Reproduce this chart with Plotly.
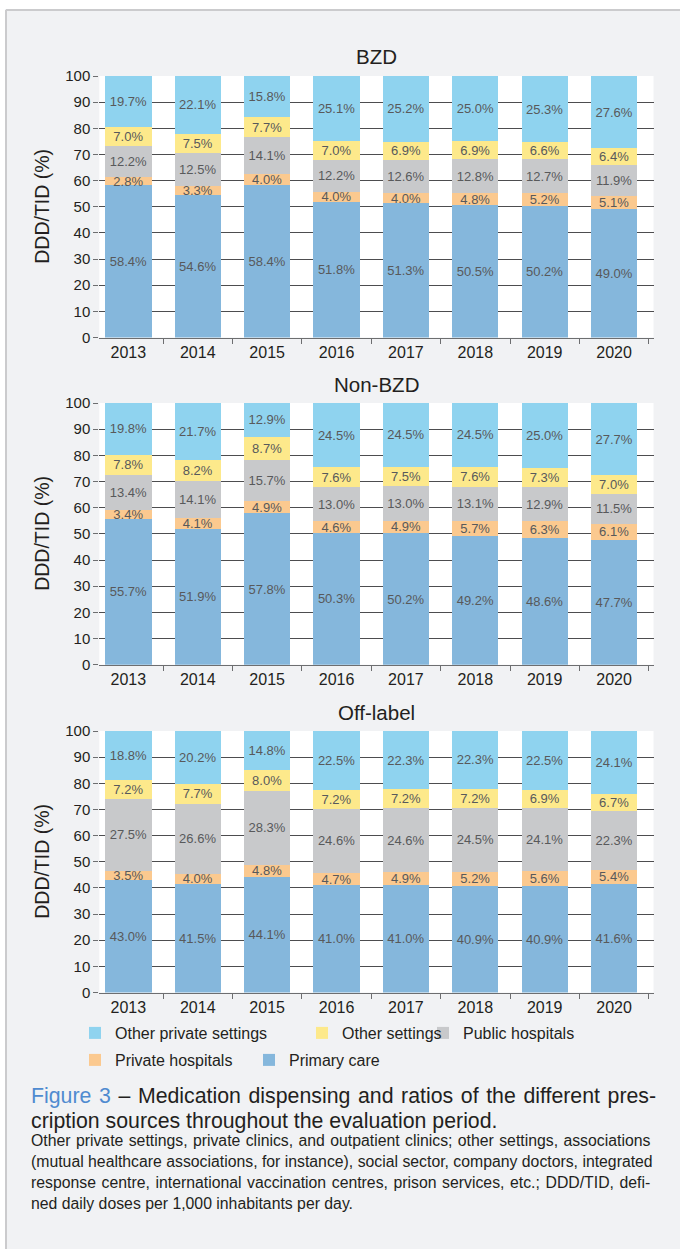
import plotly.graph_objects as go

# ---- data -------------------------------------------------------------
years = ["2013", "2014", "2015", "2016", "2017", "2018", "2019", "2020"]
panel_titles = ["BZD", "Non-BZD", "Off-label"]

series_names = ["Primary care", "Private hospitals", "Public hospitals",
                "Other settings", "Other private settings"]

bzd_primary_care = [58.4, 54.6, 58.4, 51.8, 51.3, 50.5, 50.2, 49.0]
bzd_private_hospitals = [2.8, 3.3, 4.0, 4.0, 4.0, 4.8, 5.2, 5.1]
bzd_public_hospitals = [12.2, 12.5, 14.1, 12.2, 12.6, 12.8, 12.7, 11.9]
bzd_other_settings = [7.0, 7.5, 7.7, 7.0, 6.9, 6.9, 6.6, 6.4]
bzd_other_private = [19.7, 22.1, 15.8, 25.1, 25.2, 25.0, 25.3, 27.6]

nonbzd_primary_care = [55.7, 51.9, 57.8, 50.3, 50.2, 49.2, 48.6, 47.7]
nonbzd_private_hospitals = [3.4, 4.1, 4.9, 4.6, 4.9, 5.7, 6.3, 6.1]
nonbzd_public_hospitals = [13.4, 14.1, 15.7, 13.0, 13.0, 13.1, 12.9, 11.5]
nonbzd_other_settings = [7.8, 8.2, 8.7, 7.6, 7.5, 7.6, 7.3, 7.0]
nonbzd_other_private = [19.8, 21.7, 12.9, 24.5, 24.5, 24.5, 25.0, 27.7]

offlabel_primary_care = [43.0, 41.5, 44.1, 41.0, 41.0, 40.9, 40.9, 41.6]
offlabel_private_hospitals = [3.5, 4.0, 4.8, 4.7, 4.9, 5.2, 5.6, 5.4]
offlabel_public_hospitals = [27.5, 26.6, 28.3, 24.6, 24.6, 24.5, 24.1, 22.3]
offlabel_other_settings = [7.2, 7.7, 8.0, 7.2, 7.2, 7.2, 6.9, 6.7]
offlabel_other_private = [18.8, 20.2, 14.8, 22.5, 22.3, 22.3, 22.5, 24.1]

panels = [
    [bzd_primary_care, bzd_private_hospitals, bzd_public_hospitals,
     bzd_other_settings, bzd_other_private],
    [nonbzd_primary_care, nonbzd_private_hospitals, nonbzd_public_hospitals,
     nonbzd_other_settings, nonbzd_other_private],
    [offlabel_primary_care, offlabel_private_hospitals, offlabel_public_hospitals,
     offlabel_other_settings, offlabel_other_private],
]

# ---- styling ----------------------------------------------------------
W, H = 680, 1249
FONT = "Liberation Sans, Arial, Helvetica, sans-serif"
TEXT = "#231f20"
LABEL = "#58595b"
series_colors = ["#85b7dc", "#fbc98f", "#c8c9cb", "#fde98b", "#8fd3ef"]
# each series gets its own legend box so the legend can be laid out in two rows
series_legends = ["legend5", "legend4", "legend3", "legend2", "legend"]


def fx(px):
    return px / W


def fy(py):
    return 1 - py / H


# plot-area pixel extents (top, bottom) of the three panels
panel_boxes = [(76, 337.5), (403, 664.7), (731, 992.5)]
x_left, x_right = 99.3, 653.5

fig = go.Figure()

for p, data in enumerate(panels):
    ax = "" if p == 0 else str(p + 1)
    for s, vals in enumerate(data):
        fig.add_trace(go.Bar(
            x=years, y=vals, name=series_names[s],
            marker=dict(color=series_colors[s], line=dict(width=0)),
            text=[f"{v:.1f}%" for v in vals],
            textposition="inside", insidetextanchor="middle", textangle=0,
            textfont=dict(size=13, color=LABEL, family=FONT),
            xaxis="x" + ax, yaxis="y" + ax,
            showlegend=(p == 0), legend=series_legends[s],
            hoverinfo="skip",
        ))

layout = dict(
    width=W, height=H,
    margin=dict(l=0, r=0, t=0, b=0, pad=0, autoexpand=False),
    paper_bgcolor="#f1f2f4", plot_bgcolor="#ffffff",
    barmode="stack", bargap=0.332,
    font=dict(family=FONT, color=TEXT, size=15),
    uniformtext=dict(minsize=13, mode="show"),
)

for p, (top, bottom) in enumerate(panel_boxes):
    ax = "" if p == 0 else str(p + 1)
    layout["xaxis" + ax] = dict(
        type="category", domain=[fx(x_left), fx(x_right)],
        range=[-0.419, 7.568], anchor="y" + ax, automargin=False,
        showline=True, linecolor="#6d6e70", linewidth=1,
        ticks="outside", tickson="boundaries", ticklen=5, tickcolor="#6d6e70",
        tickfont=dict(size=16, color=TEXT), showgrid=False, fixedrange=True,
    )
    layout["yaxis" + ax] = dict(
        domain=[fy(bottom), fy(top)], range=[0, 100], dtick=10,
        anchor="x" + ax, automargin=False, showline=False, zeroline=False,
        showgrid=True, gridcolor="#4d4d4f", gridwidth=1,
        ticks="outside", ticklen=5, tickcolor="#6d6e70",
        tickfont=dict(size=15, color=TEXT), fixedrange=True,
    )

# legend rows: (symbol left edge, row centre) in pixels
legend_pos = {
    "legend": (93, 1033),
    "legend2": (320, 1033),
    "legend3": (441, 1033),
    "legend4": (93, 1060),
    "legend5": (267, 1060),
}
for key, (lx, ly) in legend_pos.items():
    layout[key] = dict(
        x=fx(lx - 18), y=fy(ly), xanchor="left", yanchor="middle",
        orientation="h", bgcolor="rgba(0,0,0,0)", borderwidth=0,
        font=dict(size=16, color=TEXT, family=FONT),
    )

fig.update_layout(**layout)

annotations = []
for p, (top, bottom) in enumerate(panel_boxes):
    annotations.append(dict(
        text=panel_titles[p], x=fx((x_left + x_right) / 2), y=fy(top - 19),
        xref="paper", yref="paper", showarrow=False,
        xanchor="center", yanchor="middle",
        font=dict(size=20.5, color=TEXT, family=FONT),
    ))
    annotations.append(dict(
        text="DDD/TID (%)", x=fx(42), y=fy((top + bottom) / 2),
        xref="paper", yref="paper", showarrow=False, textangle=-90,
        xanchor="center", yanchor="middle",
        font=dict(size=19.5, color=TEXT, family=FONT),
    ))


def spaced(text, word_gap):
    # extra word spacing so the caption lines run to the right margin
    if word_gap <= 0:
        return text
    return f'<span style="word-spacing:{word_gap}px">{text}</span>'


caption_title = [
    ('<span style="color:#4f8bd0">Figure 3</span> – Medication dispensing and ratios of the different pres-', 1.7),
    ("cription sources throughout the evaluation period.", 0),
]
for i, (line, gap) in enumerate(caption_title):
    annotations.append(dict(
        text=spaced(line, gap), x=fx(29), y=fy(1096 + 25 * i),
        xref="paper", yref="paper",
        showarrow=False, xanchor="left", yanchor="middle",
        font=dict(size=21.3, color=TEXT, family=FONT),
    ))

caption_notes = [
    ("Other private settings, private clinics, and outpatient clinics; other settings, associations", 1.0),
    ("(mutual healthcare associations, for instance), social sector, company doctors, integrated", 0),
    ("response centre, international vaccination centres, prison services, etc.; DDD/TID, defi-", 1.2),
    ("ned daily doses per 1,000 inhabitants per day.", 0),
]
for i, (line, gap) in enumerate(caption_notes):
    annotations.append(dict(
        text=spaced(line, gap), x=fx(29), y=fy(1140 + 21 * i),
        xref="paper", yref="paper",
        showarrow=False, xanchor="left", yanchor="middle",
        font=dict(size=15.8, color=TEXT, family=FONT),
    ))

# white surround and grey frame of the figure box
shapes = [
    dict(type="rect", xref="paper", yref="paper", x0=0, x1=1, y0=fy(9), y1=1,
         fillcolor="#ffffff", line=dict(width=0), layer="below"),
    dict(type="rect", xref="paper", yref="paper", x0=0, x1=fx(5), y0=0, y1=1,
         fillcolor="#ffffff", line=dict(width=0), layer="below"),
    dict(type="line", xref="paper", yref="paper", x0=fx(6), x1=1, y0=fy(10), y1=fy(10),
         line=dict(color="#cbcbcd", width=2)),
    dict(type="line", xref="paper", yref="paper", x0=fx(6), x1=fx(6), y0=0, y1=fy(10),
         line=dict(color="#cbcbcd", width=2)),
]

fig.update_layout(annotations=annotations, shapes=shapes)

fig.write_html("out.html")
